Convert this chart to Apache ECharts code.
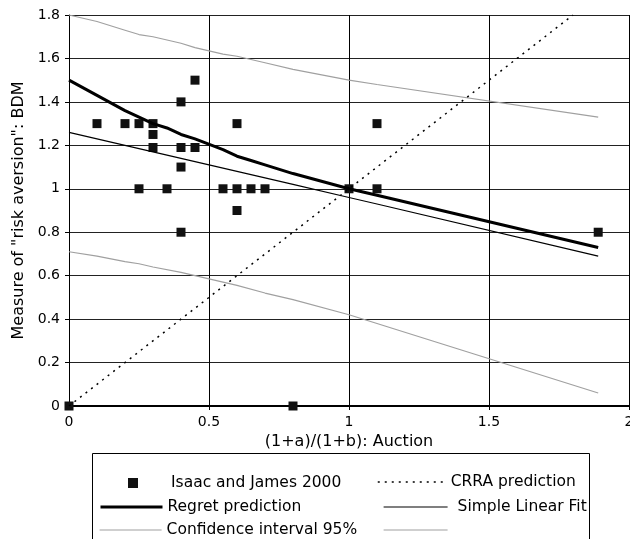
<!DOCTYPE html>
<html><head><meta charset="utf-8">
<script src="https://cdn.jsdelivr.net/npm/echarts@6/dist/echarts.min.js"></script>
<style>html,body{margin:0;padding:0;background:#fff}#c{width:630px;height:539px}</style>
</head><body><div id="c"></div>
<script>
// Observed data points (x, y)
const pointsX = [0, 0.1, 0.2, 0.25, 0.3, 0.3, 0.3, 0.25, 0.35, 0.4, 0.4, 0.4, 0.4, 0.45, 0.45, 0.55, 0.6, 0.6, 0.6, 0.65, 0.7, 0.8, 1.0, 1.1, 1.1, 1.89];
const pointsY = [0, 1.3, 1.3, 1.3, 1.3, 1.25, 1.19, 1.0, 1.0, 1.4, 1.19, 1.1, 0.8, 1.5, 1.19, 1.0, 1.0, 1.3, 0.9, 1.0, 1.0, 0, 1.0, 1.3, 1.0, 0.8];
// Regret prediction
const regretX = [0, 0.1, 0.2, 0.25, 0.3, 0.35, 0.4, 0.45, 0.55, 0.6, 0.65, 0.7, 0.8, 1.0, 1.1, 1.89];
const regretY = [1.5, 1.43, 1.36, 1.33, 1.30, 1.28, 1.25, 1.23, 1.18, 1.15, 1.13, 1.11, 1.07, 1.0, 0.97, 0.73];
// Simple linear fit
const fitX = [0, 0.3, 0.5, 0.8, 1.0, 1.1, 1.89];
const fitY = [1.26, 1.17, 1.11, 1.02, 0.96, 0.93, 0.69];
// Confidence interval 95%
const ciX = [0, 0.1, 0.2, 0.25, 0.3, 0.4, 0.45, 0.55, 0.6, 0.7, 0.8, 1.0, 1.1, 1.89];
const ciUpper = [1.80, 1.77, 1.73, 1.71, 1.70, 1.67, 1.65, 1.62, 1.61, 1.58, 1.55, 1.50, 1.48, 1.33];
const ciLower = [0.71, 0.69, 0.665, 0.655, 0.64, 0.615, 0.60, 0.57, 0.555, 0.52, 0.49, 0.42, 0.38, 0.06];
// CRRA prediction
const crraX = [0, 1.8];
const crraY = [0, 1.8];

const zip = (a, b) => a.map((v, i) => [v, b[i]]);
const FONT = 'DejaVu Sans';
const chart = echarts.init(document.getElementById('c'));
const legendText = {fontFamily: FONT, fontSize: 15.5, color: '#000'};
function leg(name, left, top, w, lw, extra) {
  return Object.assign({data: [name], left: left, top: top, itemWidth: w, itemHeight: 14,
    padding: 0, textStyle: legendText, selectedMode: false,
    itemStyle: {opacity: 0, borderWidth: 0}, lineStyle: {width: lw}}, extra || {});
}
chart.setOption({
  animation: false,
  grid: {left: 69, right: 1, top: 15, bottom: 133, outerBoundsMode: 'none', containLabel: false},
  xAxis: {
    type: 'value', min: 0, max: 2, interval: 0.5,
    name: '(1+a)/(1+b): Auction', nameLocation: 'middle', nameGap: 25,
    nameTextStyle: {fontFamily: FONT, fontSize: 16, color: '#000'},
    axisLine: {show: true, lineStyle: {color: '#000', width: 2}},
    axisTick: {show: true, length: 4, lineStyle: {color: '#000'}},
    axisLabel: {fontFamily: FONT, fontSize: 14, color: '#000', margin: 9},
    splitLine: {show: true, lineStyle: {color: '#000', width: 1}}
  },
  yAxis: {
    type: 'value', min: 0, max: 1.8, interval: 0.2,
    name: 'Measure of "risk aversion": BDM', nameLocation: 'middle', nameGap: 42,
    nameTextStyle: {fontFamily: FONT, fontSize: 16, color: '#000'},
    axisLine: {show: true, lineStyle: {color: '#000', width: 1}},
    axisTick: {show: true, length: 4, lineStyle: {color: '#000'}},
    axisLabel: {fontFamily: FONT, fontSize: 14, color: '#000', margin: 9,
      formatter: v => String(Math.round(v * 10) / 10)},
    splitLine: {show: true, lineStyle: {color: '#222', width: 1}}
  },
  legend: [
    leg('Isaac and James 2000', 128, 475, 10, 1, {itemHeight: 10, icon: 'rect', itemStyle: {},
      textStyle: Object.assign({}, legendText, {padding: [0, 0, 0, 28]})}),
    leg('CRRA prediction', 377, 474, 68, 1.5),
    leg('Regret prediction', 99, 499, 62, 3),
    leg('Simple Linear Fit', 383, 499, 64, 1.2, {textStyle: Object.assign({}, legendText, {padding: [0, 0, 0, 5]})}),
    leg('Confidence interval 95%', 99, 522, 62, 1.2),
    leg(' ', 383, 522, 64, 1.2)
  ],
  graphic: [{type: 'rect', shape: {x: 92.5, y: 453.5, width: 497, height: 100},
    style: {fill: 'none', stroke: '#000', lineWidth: 1}, silent: true}],
  series: [
    {name: 'Confidence interval 95%', type: 'line', data: zip(ciX, ciUpper), symbol: 'none',
      lineStyle: {color: '#a0a0a0', width: 1.2}, itemStyle: {color: '#a0a0a0'}},
    {name: ' ', type: 'line', data: zip(ciX, ciLower), symbol: 'none',
      lineStyle: {color: '#a0a0a0', width: 1.2}, itemStyle: {color: '#a0a0a0'}},
    {name: 'Simple Linear Fit', type: 'line', data: zip(fitX, fitY), symbol: 'none',
      lineStyle: {color: '#000', width: 1.2}, itemStyle: {color: '#000'}},
    {name: 'Regret prediction', type: 'line', data: zip(regretX, regretY), symbol: 'none',
      lineStyle: {color: '#000', width: 3}, itemStyle: {color: '#000'}},
    {name: 'CRRA prediction', type: 'line', data: zip(crraX, crraY), symbol: 'none',
      lineStyle: {color: '#000', width: 1.5, type: [2, 5]}, itemStyle: {color: '#000'}},
    {name: 'Isaac and James 2000', type: 'scatter', data: zip(pointsX, pointsY), symbol: 'rect',
      symbolSize: 9, itemStyle: {color: '#111', opacity: 1}, clip: false}
  ]
});
</script></body></html>
